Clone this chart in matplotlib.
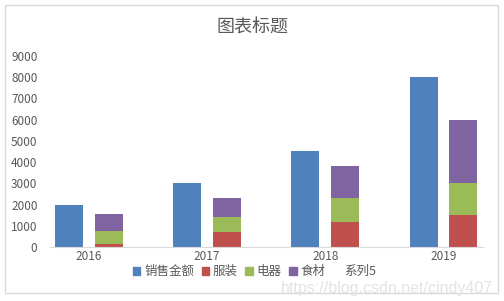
import matplotlib
matplotlib.use('Agg')
import matplotlib.pyplot as plt
from matplotlib.patches import Rectangle, Patch
import numpy as np

plt.rcParams['font.family'] = ['Noto Sans CJK SC', 'DejaVu Sans']

years = ['2016', '2017', '2018', '2019']
sales = [2000, 3000, 4500, 8000]      # 销售金额
clothes = [150, 700, 1200, 1500]      # 服装
appliances = [600, 700, 1100, 1500]   # 电器
food = [800, 900, 1500, 3000]         # 食材
yticks = [0, 1000, 2000, 3000, 4000, 5000, 6000, 7000, 8000, 9000]

c_blue = '#4F81BD'
c_red = '#C0504D'
c_green = '#9BBB59'
c_purple = '#8064A2'
c_text = '#595959'

fig = plt.figure(figsize=(5.04, 3.01), dpi=100)
ax = fig.add_axes([0.0992, 0.1784, 0.8588, 0.6366])

x = np.arange(len(years))
w = 0.237
off = 0.169

ax.bar(x - off, sales, w, color=c_blue, label='销售金额')
ax.bar(x + off, clothes, w, color=c_red, label='服装')
b2 = np.array(clothes)
ax.bar(x + off, appliances, w, bottom=b2, color=c_green, label='电器')
b3 = b2 + np.array(appliances)
ax.bar(x + off, food, w, bottom=b3, color=c_purple, label='食材')

ax.set_xlim(-0.33, 3.333)
ax.set_ylim(0, 9000)
ax.set_xticks(x)
ax.set_xticklabels(years)
ax.set_yticks(yticks)
ax.tick_params(length=0, labelsize=8.5, colors=c_text, pad=2)
ax.tick_params(axis='y', pad=9)
for s in ['top', 'right', 'left']:
    ax.spines[s].set_visible(False)
ax.spines['bottom'].set_color('#d9d9d9')

fig.text(0.5, 0.91, '图表标题', ha='center', va='center', fontsize=13, color=c_text)

handles = [Patch(color=c_blue), Patch(color=c_red), Patch(color=c_green),
           Patch(color=c_purple), Patch(color='none')]
labels = ['销售金额', '服装', '电器', '食材', '系列5']
fig.legend(handles, labels, loc='center', bbox_to_anchor=(0.505, 0.097), ncol=5,
           frameon=False, fontsize=9, handlelength=0.6, handleheight=0.6,
           handletextpad=0.3, columnspacing=0.6, labelcolor=c_text)

# watermark
fig.text(0.978, 0.043, 'https://blog.csdn.net/cindy407', ha='right', va='center',
         fontsize=11.5, color='#e3e3e3', family='Liberation Sans')

fig.patches.append(Rectangle((0.01, 0.027), 0.978, 0.956, transform=fig.transFigure,
                             fill=False, edgecolor='#d9d9d9', linewidth=1))

fig.savefig('out.png', dpi=100, facecolor='white')
